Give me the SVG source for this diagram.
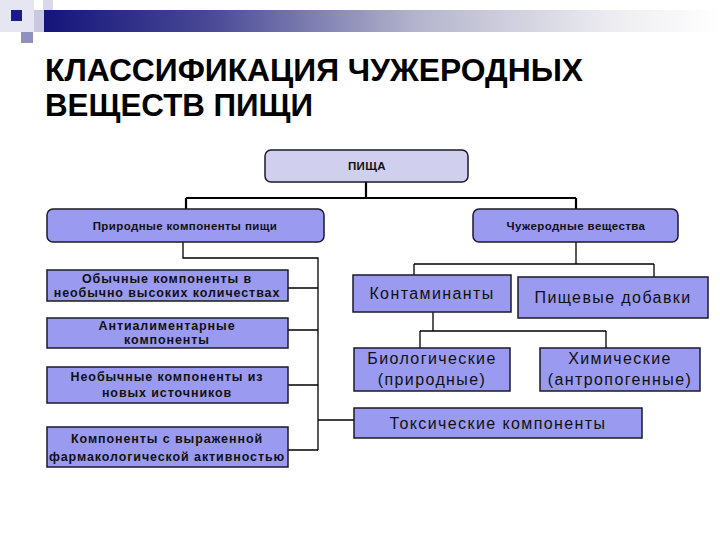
<svg xmlns="http://www.w3.org/2000/svg" width="720" height="540" viewBox="0 0 720 540">
<defs>
<linearGradient id="bar" x1="0" y1="0" x2="1" y2="0">
<stop offset="0" stop-color="#14147a"/>
<stop offset="0.25" stop-color="#4a4a96"/>
<stop offset="0.55" stop-color="#b4b4cc"/>
<stop offset="0.85" stop-color="#eeeef2"/>
<stop offset="1" stop-color="#ffffff"/>
</linearGradient>
<style>
.box{fill:#9a9af0;stroke:#1a1a2a;stroke-width:1.5}
.top{fill:#d0d0ee;stroke:#1a1a2a;stroke-width:1.5}
.ln{fill:none;stroke:#000;stroke-width:1.3}
.lt{fill:none;stroke:#000;stroke-width:2.2}
.s{font-family:"Liberation Sans",Arial,sans-serif;font-weight:bold;font-size:11.5px;letter-spacing:0.4px;fill:#111;text-anchor:middle}
.m{font-family:"Liberation Sans",Arial,sans-serif;font-weight:bold;font-size:12.5px;letter-spacing:0.9px;fill:#111;text-anchor:middle}
.l{font-family:"Liberation Sans",Arial,sans-serif;font-size:16px;letter-spacing:1.4px;fill:#111;text-anchor:middle}
.t{font-family:"Liberation Sans",Arial,sans-serif;font-weight:bold;font-size:32px;fill:#000}
</style>
</defs>
<rect width="720" height="540" fill="#fff"/>
<g id="header">
<rect x="0" y="0" width="34" height="32" fill="#e6e6f2"/>
<rect x="43" y="0" width="10" height="12" fill="#d8d8ea"/>
<rect x="34" y="10" width="10" height="22" fill="#c8c8e0"/>
<rect x="11" y="10" width="11" height="11" fill="#1a1a8c"/>
<rect x="21" y="32" width="12" height="11" fill="#9090c0"/>
<rect x="44" y="10" width="676" height="22" fill="url(#bar)"/>
<text class="t" x="45" y="81" textLength="538" lengthAdjust="spacingAndGlyphs">КЛАССИФИКАЦИЯ ЧУЖЕРОДНЫХ</text>
<text class="t" x="45" y="116" textLength="268" lengthAdjust="spacingAndGlyphs">ВЕЩЕСТВ ПИЩИ</text>
</g>
<g id="connectors">
<path class="lt" d="M366 182V198M186 198H576M186 198V209M576 198V209"/>
<path class="ln" d="M183 242V258H318V450M288 288H318M288 330H318M288 385H318M288 450H318M318 420H354"/>
<path class="ln" d="M576 242V264M414 264H654M414 264V275M654 264V277"/>
<path class="ln" d="M433 312V331M420 331H606M420 331V348M606 331V348"/>
</g>
<g id="pishcha"><rect class="top" x="265" y="150" width="203" height="32" rx="6"/><text class="s" x="367" y="170">ПИЩА</text></g>
<g id="natural"><rect class="box" x="47" y="209" width="277" height="33" rx="6"/><text class="s" x="185" y="230">Природные компоненты пищи</text></g>
<g id="foreign"><rect class="box" x="473" y="209" width="205" height="33" rx="6"/><text class="s" x="576" y="230">Чужеродные вещества</text></g>
<g id="n1"><rect class="box" x="47" y="270" width="241" height="31"/><text class="m" x="167" y="283">Обычные компоненты в</text><text class="m" x="167" y="297">необычно высоких количествах</text></g>
<g id="n2"><rect class="box" x="47" y="318" width="241" height="30"/><text class="m" x="167" y="330">Антиалиментарные</text><text class="m" x="167" y="344">компоненты</text></g>
<g id="n3"><rect class="box" x="47" y="367" width="241" height="36"/><text class="m" x="167" y="381">Необычные компоненты из</text><text class="m" x="167" y="397">новых источников</text></g>
<g id="n4"><rect class="box" x="47" y="427" width="241" height="40"/><text class="m" x="167" y="443">Компоненты с выраженной</text><text class="m" x="167" y="461">фармакологической активностью</text></g>
<g id="kont"><rect class="box" x="353" y="275" width="158" height="37"/><text class="l" x="432" y="299">Контаминанты</text></g>
<g id="dob"><rect class="box" x="518" y="277" width="190" height="41"/><text class="l" x="613" y="303">Пищевые добавки</text></g>
<g id="bio"><rect class="box" x="354" y="348" width="156" height="43"/><text class="l" x="432" y="364">Биологические</text><text class="l" x="432" y="385">(природные)</text></g>
<g id="chem"><rect class="box" x="540" y="348" width="160" height="43"/><text class="l" x="620" y="364">Химические</text><text class="l" x="620" y="385">(антропогенные)</text></g>
<g id="tox"><rect class="box" x="354" y="408" width="288" height="30"/><text class="l" x="498" y="429">Токсические компоненты</text></g>
</svg>
